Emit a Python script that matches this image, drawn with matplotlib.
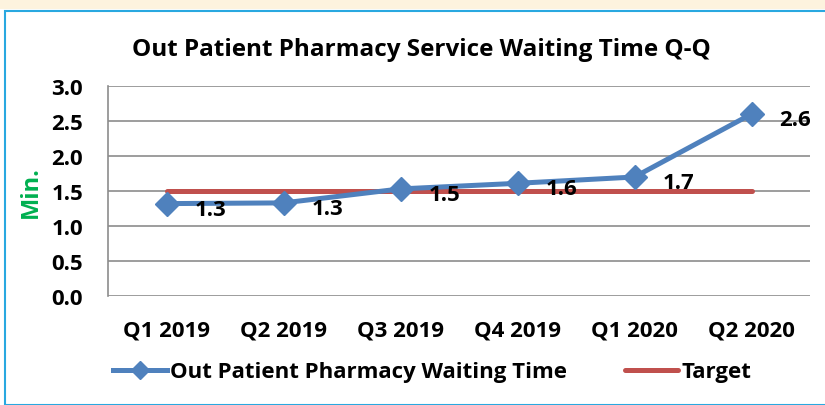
import matplotlib.pyplot as plt
from matplotlib.patches import Rectangle

plt.rcParams["font.family"] = ["Open Sans", "DejaVu Sans"]
plt.rcParams["font.weight"] = "bold"

quarters = ["Q1 2019", "Q2 2019", "Q3 2019", "Q4 2019", "Q1 2020", "Q2 2020"]
waiting = [1.32, 1.33, 1.53, 1.61, 1.70, 2.60]
target = [1.5, 1.5, 1.5, 1.5, 1.5, 1.5]

BLUE = "#4F81BD"
RED = "#C0504D"
GRID = "#8C8C8C"

fig = plt.figure(figsize=(8.25, 4.06), dpi=100)
ax = fig.add_axes([108 / 825, 1 - 297 / 406, (810 - 108) / 825, (297 - 87) / 406])

# frame of the pasted chart
fig.patches.append(Rectangle((0.006, 0), 1, 1 - 12 / 406, transform=fig.transFigure,
                             fill=False, edgecolor="#29A8E0", linewidth=1.5))
fig.patches.append(Rectangle((0, 1 - 10 / 406), 1, 10 / 406, transform=fig.transFigure,
                             facecolor="#FDF3DE", edgecolor="none"))

x = list(range(len(quarters)))
ax.plot(x, target, color=RED, linewidth=3.6, solid_capstyle="round", label="Target", zorder=2)
ax.plot(x, waiting, color=BLUE, linewidth=3.6, marker="D", markersize=12,
        label="Out Patient Pharmacy Waiting Time", zorder=3)

for xi, v in zip(x, waiting):
    ax.annotate(f"{v:.1f}", (xi, v), xytext=(20, -4), textcoords="offset points",
                ha="left", va="center", fontsize=16, fontweight="bold", zorder=4)

ax.set_xlim(-0.5, len(quarters) - 0.5)
ax.set_ylim(0, 3.0)
ax.set_yticks([0, 0.5, 1.0, 1.5, 2.0, 2.5, 3.0])
ax.set_yticklabels([f"{t:.1f}" for t in ax.get_yticks()])
ax.set_xticks(x)
ax.set_xticklabels(quarters)
ax.tick_params(axis="both", length=0, labelsize=16)
ax.tick_params(axis="y", pad=18)
ax.tick_params(axis="x", pad=17)
ax.yaxis.grid(True, color=GRID, linewidth=1.2)
ax.set_axisbelow(True)
for side in ["top", "right", "bottom"]:
    ax.spines[side].set_visible(False)
ax.spines["left"].set_color(GRID)
ax.spines["left"].set_linewidth(1.2)

ax.set_ylabel("Min.", color="#00B050", fontsize=17, fontweight="bold", labelpad=6)

fig.text(0.511, 1 - 50 / 406, "Out Patient Pharmacy Service Waiting Time Q-Q",
         ha="center", va="center", fontsize=17.5, fontweight="bold")

handles, labels = ax.get_legend_handles_labels()
fig.legend(handles[::-1], labels[::-1], loc="center", bbox_to_anchor=(0.524, 1 - 373 / 406),
           ncol=2, frameon=False, handlelength=2.4, handletextpad=0.15,
           columnspacing=2.6, markerscale=0.75, prop={"weight": "bold", "size": 16})

fig.savefig("out.png", dpi=100)
